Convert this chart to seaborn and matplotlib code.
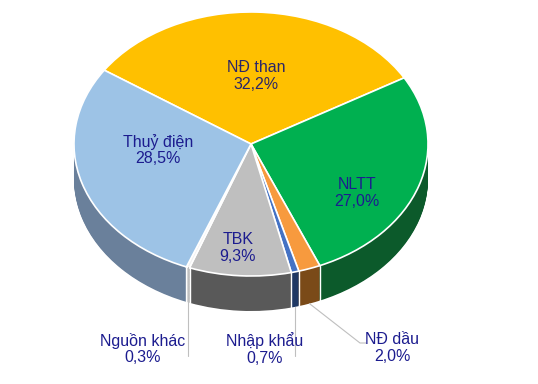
import numpy as np
import matplotlib
matplotlib.use('Agg')
import matplotlib.pyplot as plt
import seaborn as sns

categories = ['NĐ than', 'NLTT', 'NĐ dầu', 'Nhập khẩu', 'TBK', 'Nguồn khác', 'Thuỷ điện']
values = [32.2, 27.0, 2.0, 0.7, 9.3, 0.3, 28.5]
pct_labels = ['32,2%', '27,0%', '2,0%', '0,7%', '9,3%', '0,3%', '28,5%']

top_colors = ['#FFC000', '#00B050', '#F79A3E', '#4472C4', '#BFBFBF', '#F2F2F2', '#9DC3E6']
side_colors = ['#997300', '#0C5A2B', '#7A4A18', '#1F3864', '#595959', '#D0D0D0', '#6A809B']

sns.set_style('white')
plt.rcParams['font.family'] = ['Liberation Sans', 'DejaVu Sans']

W, H = 538, 384
fig = plt.figure(figsize=(W / 100, H / 100), dpi=100)
ax = fig.add_axes([0, 0, 1, 1])

CX, CY, RX, RY = 251, 144, 177, 132
DEPTH = 35 / RY
START = 146


def px(x, y):
    return ((x - CX) / RX, (CY - y) / RY)


n_layers = 45
for k in range(n_layers):
    off = -DEPTH * (1 - k / n_layers)
    ax.pie(values, colors=side_colors, startangle=START, counterclock=False,
           center=(0, off), radius=1, wedgeprops=dict(linewidth=0))

# separators on the side
cum = np.cumsum(values)
bounds = START - 360 * np.concatenate([[0], cum]) / sum(values)
for b in bounds:
    t = np.deg2rad(b)
    if np.sin(t) < -0.05:
        ax.plot([np.cos(t), np.cos(t)], [np.sin(t), np.sin(t) - DEPTH],
                color='white', lw=1.0, zorder=3)

ax.pie(values, colors=top_colors, startangle=START, counterclock=False,
       center=(0, 0), radius=1, wedgeprops=dict(linewidth=1.2, edgecolor='white'))

mids = np.deg2rad((bounds[:-1] + bounds[1:]) / 2)

txt_kw = dict(ha='center', va='center', fontsize=11.5, color='#1C1C8F',
              linespacing=1.1, zorder=6)

inside_pos = {0: (256, 76), 1: (357, 193), 4: (238, 248), 6: (158, 150)}
for i, (x, y) in inside_pos.items():
    c = '#2B2668' if i == 0 else '#1C1C8F'
    ax.text(*px(x, y), f'{categories[i]}\n{pct_labels[i]}', **{**txt_kw, 'color': c})

outside_pos = {5: (143, 349), 3: (265, 349), 2: (392, 348)}
for i, (x, y) in outside_pos.items():
    ax.text(*px(x, y), f'{categories[i]}\n{pct_labels[i]}', **txt_kw)

lc = dict(color='#BFBFBF', lw=0.8, zorder=5)
# Nguồn khác leader
t = mids[5]
ax.plot([np.cos(t), np.cos(t)], [np.sin(t), px(0, 356)[1]], **lc)
# Nhập khẩu leader
t = mids[3]
ax.plot([np.cos(t), np.cos(t)], [np.sin(t) - DEPTH, px(0, 356)[1]], **lc)
# NĐ dầu leader
t = mids[2]
p1 = px(360, 343)
p2 = px(366, 343)
ax.plot([np.cos(t), p1[0], p2[0]], [np.sin(t) - DEPTH, p1[1], p2[1]], **lc)

ax.set_aspect('auto')
ax.set_xlim(-CX / RX, (W - CX) / RX)
ax.set_ylim(-(H - CY) / RY, CY / RY)
ax.axis('off')

fig.savefig('out.png', dpi=100)
